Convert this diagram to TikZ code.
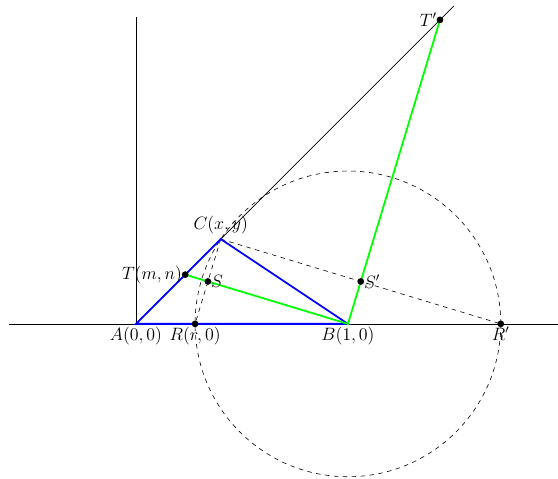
\documentclass[tikz,border=0pt]{standalone}
\usepackage{amsmath}
\usetikzlibrary{calc}

\begin{document}
\begin{tikzpicture}[scale=5,
  pt/.style={circle,fill,inner sep=1.6pt},
  lbl/.style={font=\large,inner sep=2pt},
  tri/.style={blue,line width=1.2pt},
  grn/.style={green,line width=1.2pt}]
  \useasboundingbox (-0.6415,-0.731) rectangle (1.991,1.528);
  \coordinate (A) at (0,0);
  \coordinate (B) at (1,0);
  \coordinate (C) at (0.4,0.4);
  \coordinate (R) at (0.27889,0);
  \coordinate (Rp) at (1.72111,0);
  \coordinate (S) at ($(C)!0.5!(R)$);
  \coordinate (Sp) at ($(C)!0.5!(Rp)$);
  \coordinate (T) at (0.23239,0.23239);
  \coordinate (Tp) at (1.43426,1.43426);
  \coordinate (xend) at (2,0);
  \coordinate (xbeg) at (-0.6,0);
  \coordinate (yend) at (0,1.45);
  \coordinate (lend) at (1.5,1.5);
  % axes and the line through A and C
  \draw (xbeg) -- (xend);
  \draw (A) -- (yend);
  \draw (A) -- (lend);
  % circle about B through C
  \draw[dashed] (B) circle (0.72111);
  \draw[dashed] (C) -- (R);
  \draw[dashed] (C) -- (Rp);
  % triangle
  \draw[tri] (A) -- (B) -- (C) -- cycle;
  \draw[grn] (T) -- (B) -- (Tp);
  % points
  \node[pt] (t) at (T) {};
  \node[pt] (s) at (S) {};
  \node[pt] (r) at (R) {};
  \node[pt] (sp) at (Sp) {};
  \node[pt] (rp) at (Rp) {};
  \node[pt] (tp) at (Tp) {};
  \node[lbl,below] (la) at (A) {$A(0,0)$};
  \node[lbl,below] (lb) at (B) {$B(1,0)$};
  \node[lbl,above=1pt] (lc) at (C) {$C(x,y)$};
  \node[lbl,below] (lr) at (R) {$R(r,0)$};
  \node[lbl,below] (lrp) at (Rp) {$R'$};
  \node[lbl,left=0pt] (lt) at (T) {$T(m,n)$};
  \node[lbl,right=0pt] (ls) at (S) {$S$};
  \node[lbl,right=0pt] (lsp) at (Sp) {$S'$};
  \node[lbl,left=0pt] (ltp) at (Tp) {$T'$};
\end{tikzpicture}
\end{document}
